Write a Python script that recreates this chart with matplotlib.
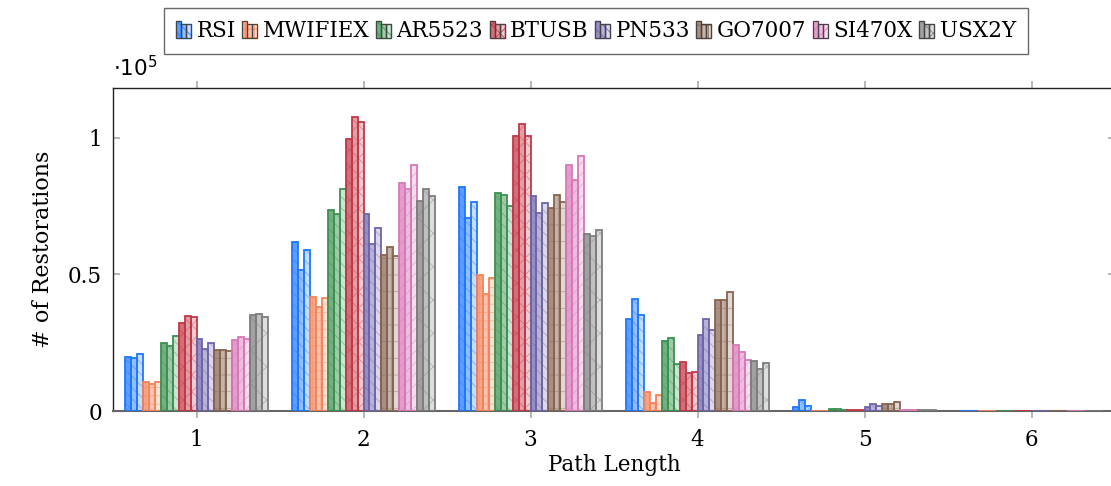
import matplotlib
matplotlib.use("Agg")
import matplotlib.pyplot as plt
from matplotlib.patches import Rectangle
from matplotlib.legend_handler import HandlerBase
import numpy as np

path_lengths = [1, 2, 3, 4, 5, 6]
drivers = ["RSI", "MWIFIEX", "AR5523", "BTUSB", "PN533", "GO7007", "SI470X", "USX2Y"]

# number of restorations: for each driver, per path length, three variants
rsi     = [[19700, 19400, 20800], [61800, 51600, 59000], [82100, 70800, 76600], [33600, 41100, 35000], [1600, 4000, 1800], [100, 100, 100]]
mwifiex = [[10700, 9900, 10800],  [41700, 38200, 41500], [49700, 42700, 48800], [7000, 3000, 5900],    [100, 100, 100],   [100, 100, 100]]
ar5523  = [[24800, 23900, 27400], [73600, 72000, 81400], [79900, 79200, 75000], [25600, 26800, 17100], [800, 800, 300],   [100, 100, 100]]
btusb   = [[32400, 34900, 34500], [99500, 107800, 105800], [100800, 105200, 100800], [18000, 14000, 14400], [200, 200, 200], [100, 100, 100]]
pn533   = [[26400, 22600, 25000], [72200, 61100, 67100], [78700, 72500, 76300], [28000, 33800, 29700], [1300, 2500, 1800], [100, 100, 100]]
go7007  = [[22300, 22300, 21900], [57200, 60100, 56700], [74400, 79000, 76600], [40600, 40500, 43700], [2700, 2700, 3400], [100, 100, 100]]
si470x  = [[26100, 27000, 26200], [83400, 81400, 90000], [90200, 84700, 93300], [24200, 21700, 18800], [500, 500, 300],   [100, 100, 100]]
usx2y   = [[35200, 35400, 34600], [77000, 81400, 78700], [64800, 64200, 66400], [18200, 15500, 17700], [200, 200, 200],   [100, 100, 100]]

all_data = [rsi, mwifiex, ar5523, btusb, pn533, go7007, si470x, usx2y]
colors = ["#1e78ff", "#f5845a", "#3c9150", "#c33746", "#6e64aa", "#876450", "#d778b9", "#7d7d7d"]
hatches = ["\\\\\\", "++", "\\\\\\", "xx", "\\\\\\", "+", "///", "x"]
alphas = [0.72, 0.48, 0.25]

plt.rcParams["font.family"] = ["DejaVu Serif"]
plt.rcParams["hatch.linewidth"] = 0.6

fig = plt.figure(figsize=(11.11, 4.86), dpi=100)
ax = fig.add_axes([113 / 1111, 75 / 486, 1002 / 1111, 323 / 486])

w = 0.0359
x = np.array(path_lengths, dtype=float)
k = 0
for d, (data, col, h) in enumerate(zip(all_data, colors, hatches)):
    arr = np.array(data) / 1e5
    for v in range(3):
        pos = x + (k - 11.5) * w
        rgb = matplotlib.colors.to_rgb(col)
        ax.bar(pos, arr[:, v], width=w, color=(*rgb, alphas[v]), edgecolor=(*rgb, 0.45),
               hatch=h, linewidth=0, zorder=2)
        ax.bar(pos, arr[:, v], width=w, facecolor="none", edgecolor=col, linewidth=1.3, zorder=3)
        k += 1

ax.set_xlim(0.5, 6.5)
ax.set_ylim(0, 1.183)
ax.set_xticks(path_lengths)
ax.set_xticklabels([str(p) for p in path_lengths], fontsize=15.5)
ax.set_yticks([0, 0.5, 1])
ax.set_yticklabels(["0", "0.5", "1"], fontsize=15.5)
ax.tick_params(axis="x", direction="out", length=5, color="#aaaaaa", width=1.2, top=True, pad=8)
ax.tick_params(axis="y", direction="in", length=5, color="#aaaaaa", width=1.2, right=True, pad=8)
for s in ax.spines.values():
    s.set_linewidth(1.0)
    s.set_color("#222222")
ax.spines["bottom"].set_color("#666666")
ax.spines["bottom"].set_linewidth(1.5)

ax.set_xlabel("Path Length", fontsize=15.5, labelpad=2)
ax.set_ylabel("# of Restorations", fontsize=16, labelpad=10)
ax.text(0.0, 1.02, r"$\cdot 10^5$", transform=ax.transAxes, fontsize=15.5, ha="left", va="bottom")


class BarIcon:
    def __init__(self, color, hatch):
        self.color = color
        self.hatch = hatch


class HandlerBarIcon(HandlerBase):
    def create_artists(self, legend, orig_handle, xdescent, ydescent, width, height, fontsize, trans):
        arts = []
        bw = width / 3.0
        heights = [1.0, 0.85, 0.85]
        rgb = matplotlib.colors.to_rgb(orig_handle.color)
        for i in range(3):
            r = Rectangle((-xdescent + i * bw, -ydescent), bw, height * 0.95 * heights[i],
                          facecolor=(*rgb, alphas[i]), edgecolor=orig_handle.color,
                          hatch=orig_handle.hatch, linewidth=1.0, transform=trans)
            arts.append(r)
        for i in range(3):
            r = Rectangle((-xdescent + i * bw, -ydescent), bw, height * 0.95 * heights[i],
                          facecolor="none", edgecolor="#444444", linewidth=0.8, transform=trans)
            arts.append(r)
        return arts


handles = [BarIcon(c, h) for c, h in zip(colors, hatches)]
leg = fig.legend(handles, drivers, handler_map={BarIcon: HandlerBarIcon()},
                 loc="upper center", bbox_to_anchor=(596 / 1111, 1 - 8 / 486), ncol=8,
                 fontsize=15.5, frameon=True, fancybox=False, edgecolor="#444444",
                 handlelength=0.7, handleheight=0.9, handletextpad=0.25, columnspacing=0.3,
                 borderpad=0.55, borderaxespad=0)
leg.get_frame().set_linewidth(1.0)

fig.savefig("out.png", dpi=100)
